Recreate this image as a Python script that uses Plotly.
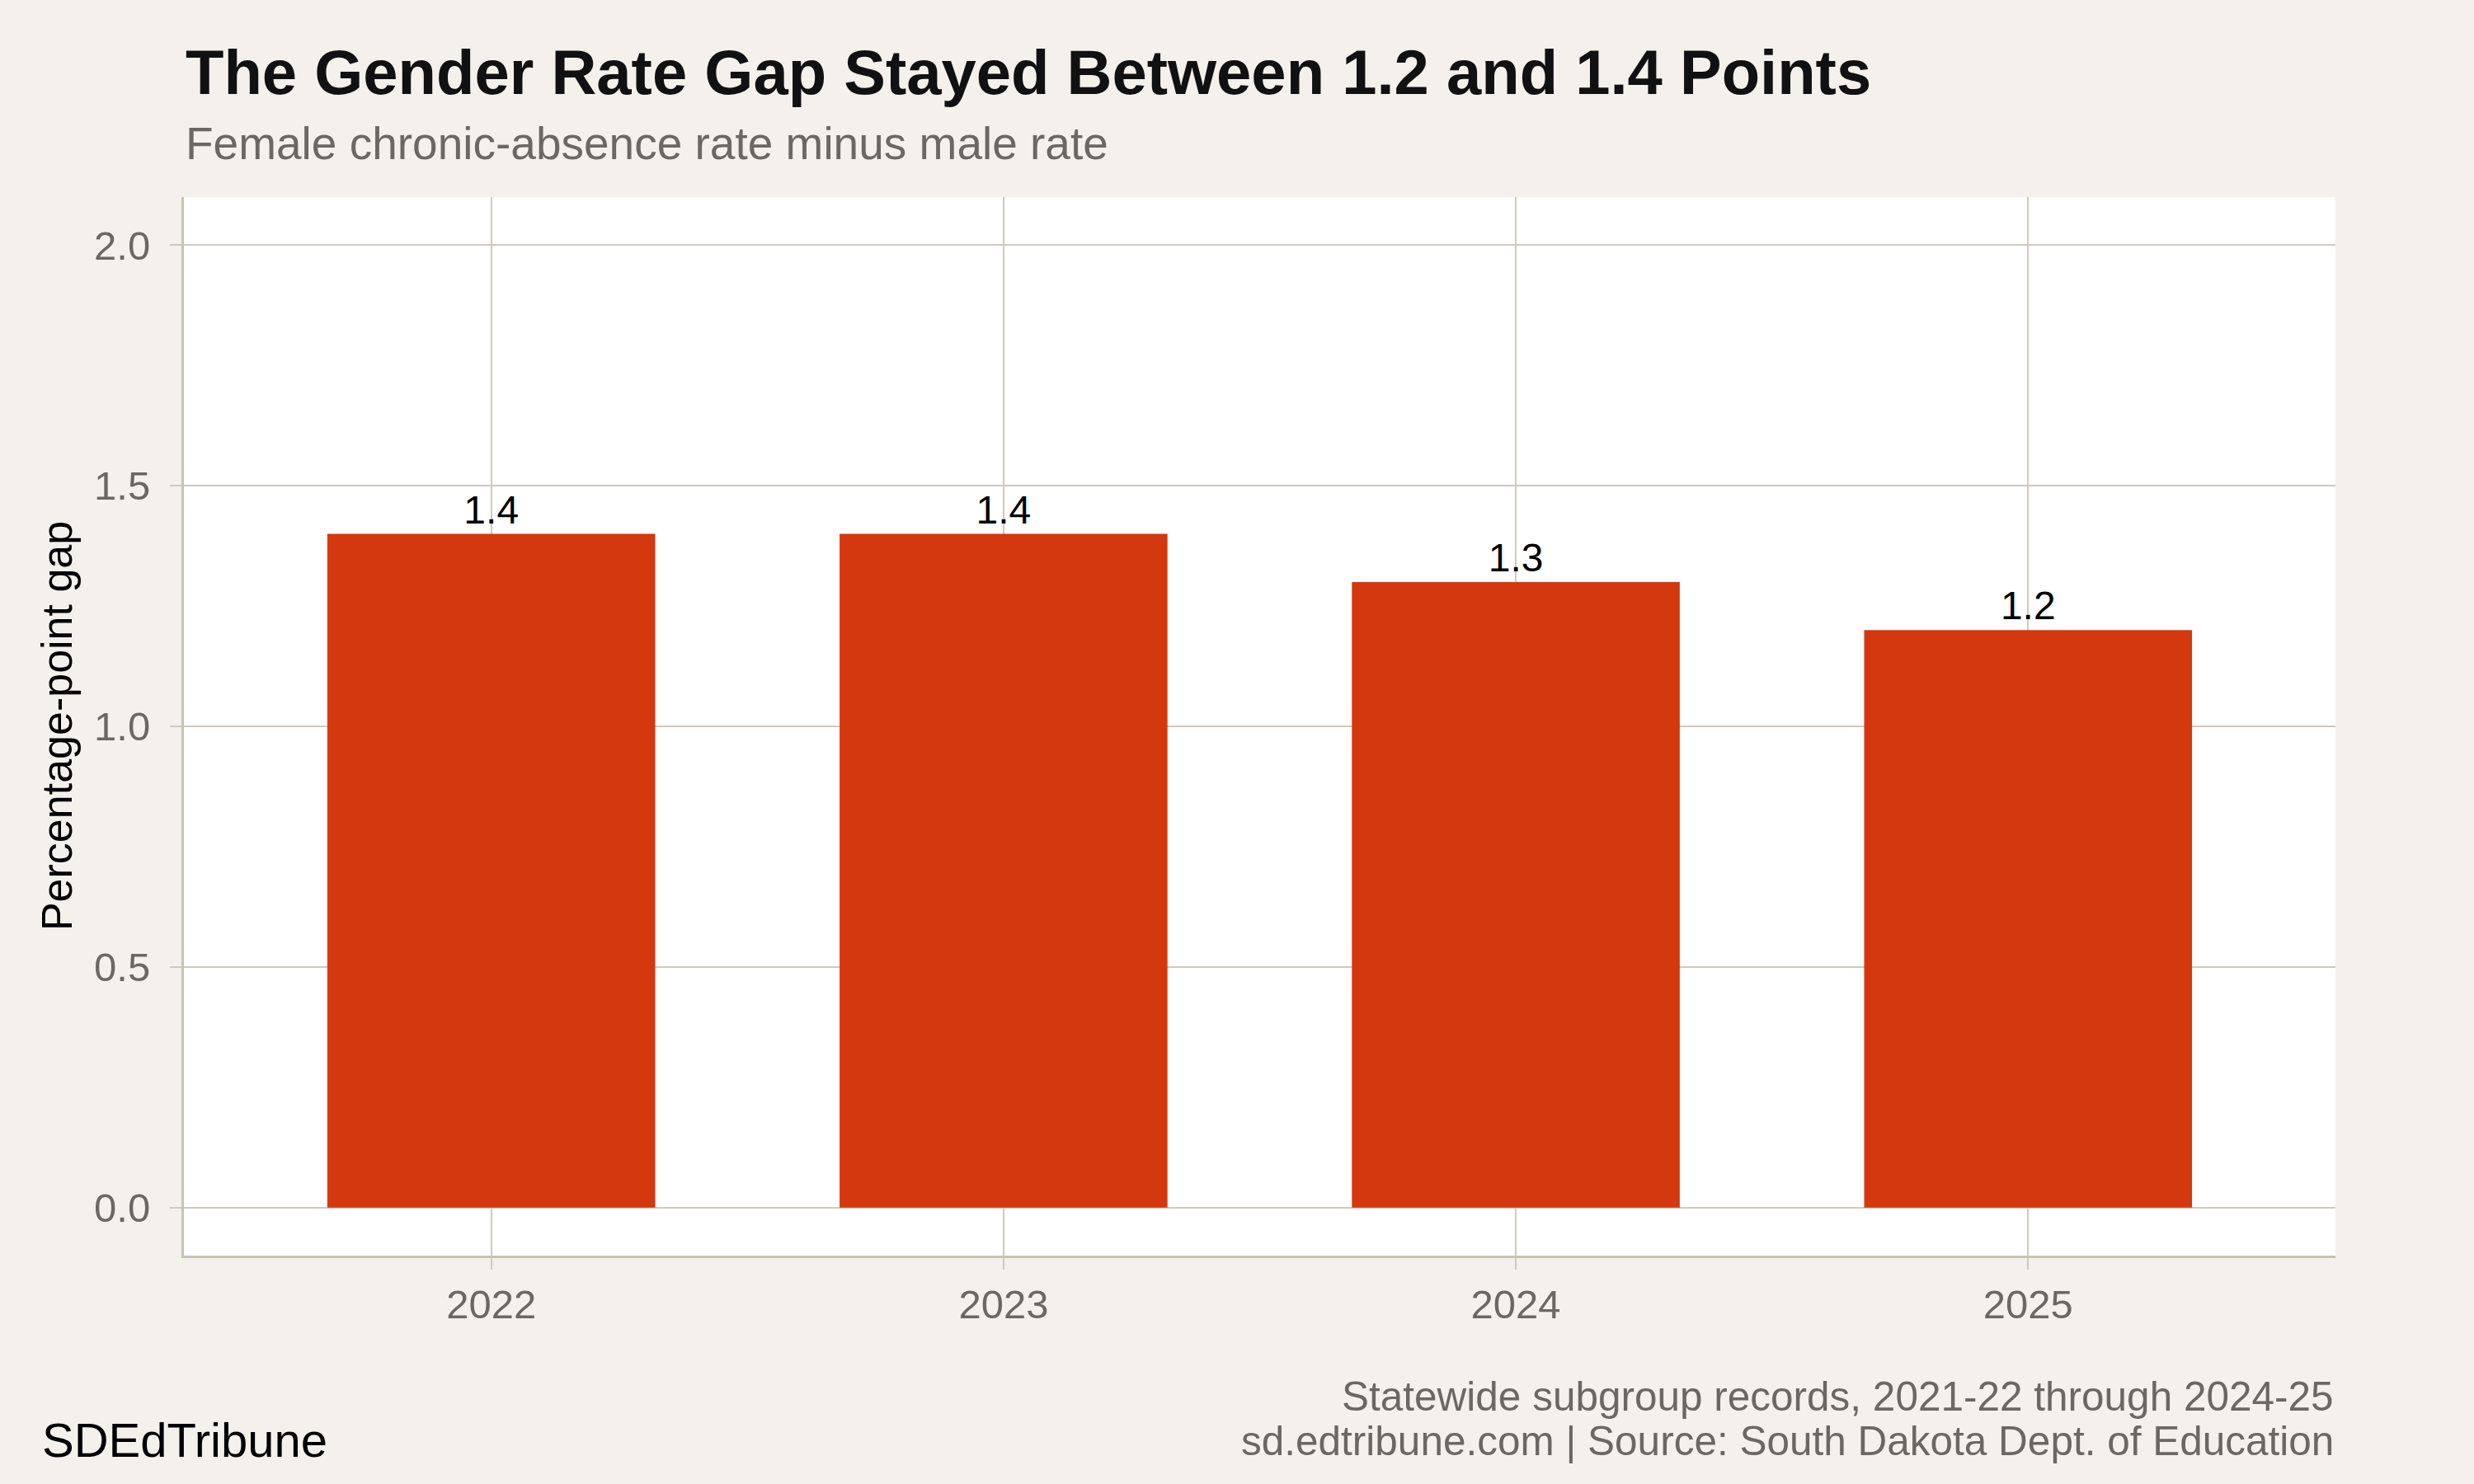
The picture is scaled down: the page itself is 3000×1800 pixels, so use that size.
import plotly.graph_objects as go

# Data
years = ["2022", "2023", "2024", "2025"]
gap_points = [1.4, 1.4, 1.3, 1.2]
gap_labels = ["1.4", "1.4", "1.3", "1.2"]
y_ticks = [0.0, 0.5, 1.0, 1.5, 2.0]
y_tick_text = ["0.0", "0.5", "1.0", "1.5", "2.0"]

# Colours
colors = {
    'bar': '#D4380E',
    'paper': '#F4F1EC',
    'grid': '#CFC9BF',
    'axis': '#C9C2B6',
    'muted': '#6B6762',
    'ink': '#111111',
}
font_family = "Liberation Sans, Arial, Helvetica, sans-serif"

fig = go.Figure()
fig.add_trace(go.Bar(
    x=years,
    y=gap_points,
    width=0.64,
    marker=dict(color=colors['bar'], line=dict(width=0)),
    text=gap_labels,
    textposition='outside',
    textfont=dict(family=font_family, size=48, color='#000000'),
    cliponaxis=False,
    hoverinfo='skip',
))

# --- Titles and captions as annotations (paper coords) ---
def note(text, x, y, size, color, xanchor='left', **kw):
    return dict(text=text, x=x, y=y, xref='paper', yref='paper',
                xanchor=xanchor, yanchor='middle', showarrow=False,
                font=dict(family=font_family, size=size, color=color), **kw)

annotations = [
    note("<b>The Gender Rate Gap Stayed Between 1.2 and 1.4 Points</b>",
         0.0, 1.118, 76, colors['ink']),
    note("Female chronic-absence rate minus male rate",
         0.0, 1.051, 55, colors['muted']),
    note("Percentage-point gap", -0.059, 0.5, 52, '#000000',
         xanchor='center', textangle=-90),
    note("Statewide subgroup records, 2021-22 through 2024-25",
         1.0, -0.1324, 49.5, colors['muted'], xanchor='right'),
    note("sd.edtribune.com | Source: South Dakota Dept. of Education",
         1.0, -0.1745, 49.5, colors['muted'], xanchor='right'),
    note("SDEdTribune", -0.0667, -0.174, 58, '#000000'),
]

fig.update_layout(
    width=3000,
    height=1800,
    margin=dict(l=223, r=168, t=239, b=277),
    paper_bgcolor=colors['paper'],
    plot_bgcolor='#FFFFFF',
    showlegend=False,
    annotations=annotations,
    font=dict(family=font_family),
)

fig.update_xaxes(
    type='category',
    range=[-0.6, 3.6],
    showgrid=True, gridcolor=colors['grid'], gridwidth=2,
    showline=True, linecolor=colors['axis'], linewidth=3, mirror=False,
    ticks='outside', ticklen=14, tickwidth=2, tickcolor=colors['grid'],
    tickfont=dict(family=font_family, size=49, color=colors['muted']),
    zeroline=False,
)
fig.update_yaxes(
    range=[-0.1, 2.1],
    tickvals=y_ticks, ticktext=y_tick_text,
    showgrid=True, gridcolor=colors['grid'], gridwidth=2,
    showline=True, linecolor=colors['axis'], linewidth=3, mirror=False,
    ticks='outside', ticklen=14, tickwidth=2, tickcolor=colors['grid'],
    ticklabelstandoff=14,
    tickfont=dict(family=font_family, size=49, color=colors['muted']),
    zeroline=False,
)

# drop the default page margin so the figure sits at the window corner
page_fix = ("document.body.style.margin='0';"
            "document.body.style.background='#F4F1EC';")
fig.write_html("out.html", post_script=page_fix,
               config={'displayModeBar': False})
